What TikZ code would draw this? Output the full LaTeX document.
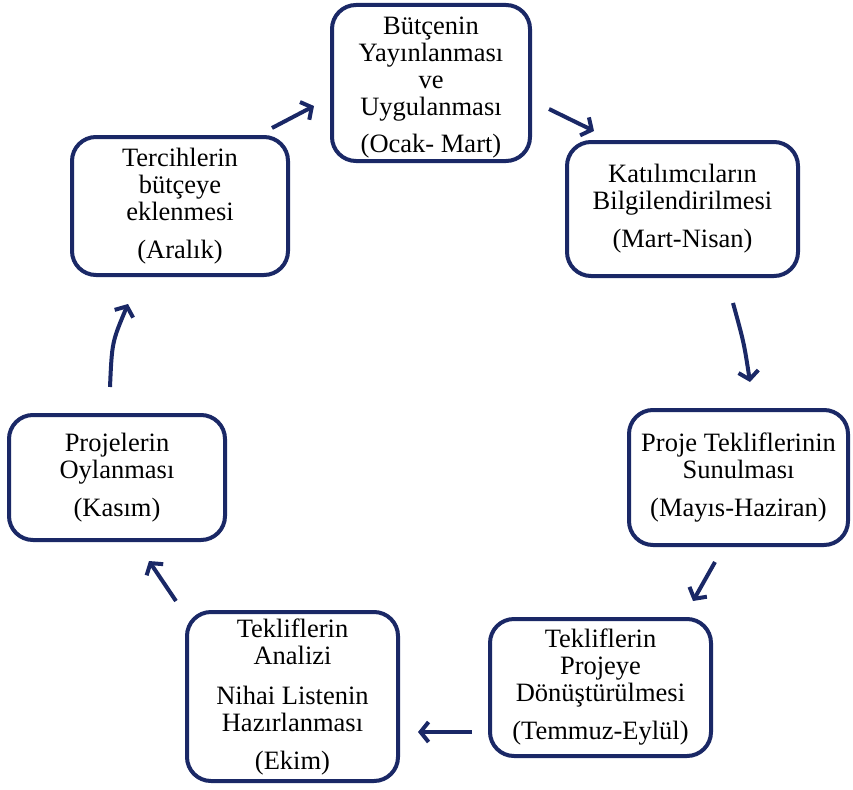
\documentclass[tikz,border=0pt]{standalone}
\usepackage{fontspec}
\setmainfont{Liberation Serif}
\usetikzlibrary{arrows.meta}
\definecolor{navy}{RGB}{26,40,102}
\begin{document}
\begin{tikzpicture}[x=1pt,y=-1pt,
  stage/.style={draw=navy, line width=4pt, rounded corners=24pt, fill=white,
    align=center, inner sep=0pt, font=\fontsize{26.5}{27}\selectfont},
  flow/.style={draw=navy, line width=4pt, -{Straight Barb[length=8pt,width=20pt]}}]
\useasboundingbox (0,0) rectangle (853,789);
\node[stage, minimum width=198pt, minimum height=156pt] (b1) at (431,83)
  {\rule{0pt}{27pt}Bütçenin\\Yayınlanması\\ve\\Uygulanması\\[10pt](Ocak- Mart)};
\node[stage, minimum width=231pt, minimum height=134pt] (b2) at (682.5,209)
  {Katılımcıların\\Bilgilendirilmesi\\[11pt](Mart-Nisan)};
\node[stage, minimum width=219pt, minimum height=135pt] (b3) at (738.5,477.5)
  {Proje Tekliflerinin\\Sunulması\\[11pt](Mayıs-Haziran)};
\node[stage, minimum width=221pt, minimum height=137pt] (b4) at (600.5,687.5)
  {Tekliflerin\\Projeye\\Dönüştürülmesi\\[11pt](Temmuz-Eylül)};
\node[stage, minimum width=211pt, minimum height=169pt] (b5) at (292.5,696.5)
  {Tekliflerin\\Analizi\\[13pt]Nihai Listenin\\Hazırlanması\\[11pt](Ekim)};
\node[stage, minimum width=216pt, minimum height=125pt] (b6) at (117,477.5)
  {Projelerin\\Oylanması\\[11pt](Kasım)};
\node[stage, minimum width=216pt, minimum height=138pt] (b7) at (180,206)
  {Tercihlerin\\bütçeye\\eklenmesi\\[11pt](Aralık)};
% connector ends
\coordinate (a71) at (272,128); \coordinate (a71e) at (314,106);
\coordinate (a12) at (549,109); \coordinate (a12e) at (594,131);
\coordinate (a23) at (733,303); \coordinate (a23e) at (750,382);
\coordinate (a34) at (715,562); \coordinate (a34e) at (693,601);
\coordinate (a45) at (472,732); \coordinate (a45e) at (418,732);
\coordinate (a56) at (176,601); \coordinate (a56e) at (149,561);
\coordinate (a67) at (110,387); \coordinate (a67e) at (128,304);
\draw[flow] (a71) -- (a71e);
\draw[flow] (a12) -- (a12e);
\draw[flow] (a23) .. controls (744,343) .. (a23e);
\draw[flow] (a34) -- (a34e);
\draw[flow] (a45) -- (a45e);
\draw[flow] (a56) -- (a56e);
\draw[flow] (a67) .. controls (112,342) .. (a67e);
\end{tikzpicture}
\end{document}
